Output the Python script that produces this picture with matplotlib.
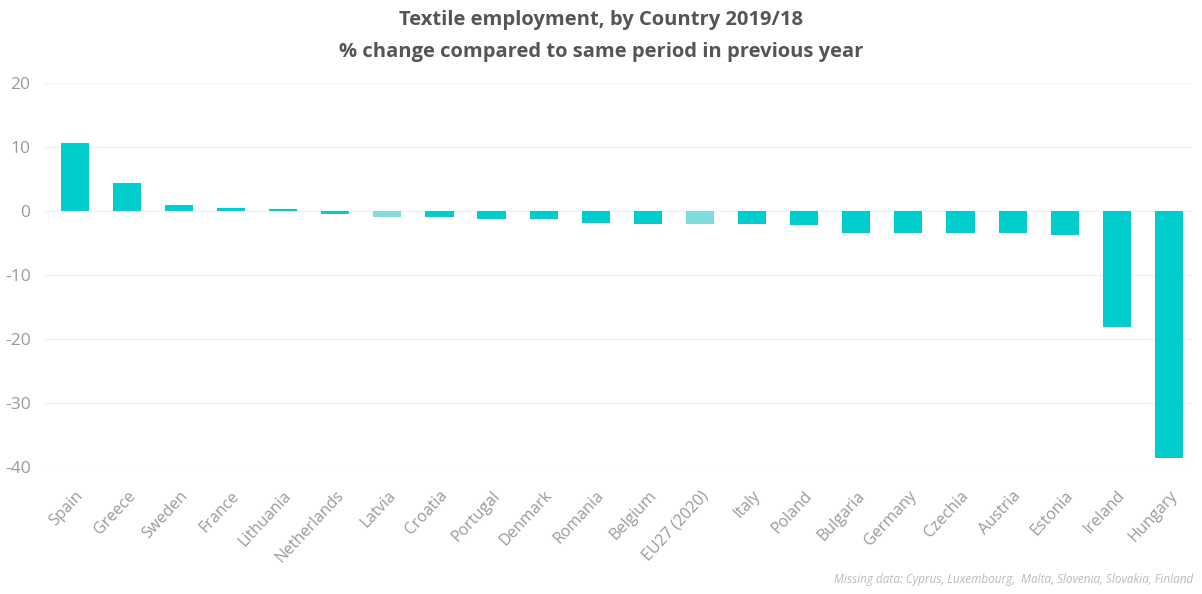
import matplotlib.pyplot as plt
import numpy as np

# Datos
countries = ["Spain", "Greece", "Sweden", "France", "Lithuania", "Netherlands",
             "Latvia", "Croatia", "Portugal", "Denmark", "Romania", "Belgium",
             "EU27 (2020)", "Italy", "Poland", "Bulgaria", "Germany", "Czechia",
             "Austria", "Estonia", "Ireland", "Hungary"]
change = [10.6, 4.4, 0.9, 0.5, 0.4, -0.5, -0.9, -0.9, -1.3, -1.3, -1.9, -2.0,
          -2.0, -2.0, -2.2, -3.4, -3.4, -3.5, -3.5, -3.8, -18.1, -38.6]
light = ["Latvia", "EU27 (2020)"]
yticks = [20, 10, 0, -10, -20, -30, -40]

plt.rcParams['font.family'] = ['Open Sans', 'DejaVu Sans']
plt.rcParams['axes.unicode_minus'] = False

fig = plt.figure(figsize=(12.02, 5.94), dpi=100)
ax = fig.add_axes([0.037, 0.214, 0.955, 0.646])

colors = ['#7fdcdc' if c in light else '#00cccc' for c in countries]
x = np.arange(len(countries))
ax.bar(x, change, width=0.54, color=colors, zorder=2)

ax.set_xlim(-0.58, len(countries) - 0.55)
ax.set_ylim(-40, 20)
ax.set_yticks(yticks)
ax.grid(axis='y', color='#f2f2f2', linewidth=1, zorder=0)
ax.set_xticks(x)
ax.set_xticklabels(countries, rotation=47, ha='right', rotation_mode='anchor',
                   fontsize=11.5, color='#9a9a9a')
ax.tick_params(axis='y', labelsize=12.5, colors='#9a9a9a', length=0, pad=10)
ax.tick_params(axis='x', length=0, pad=15)
for s in ax.spines.values():
    s.set_visible(False)

fig.text(0.5, 0.967, "Textile employment, by Country 2019/18", ha='center', va='center',
         fontsize=14.5, fontweight='bold', color='#555555')
fig.text(0.5, 0.913, "% change compared to same period in previous year", ha='center',
         va='center', fontsize=14.5, fontweight='bold', color='#555555')
fig.text(0.993, 0.025, "Missing data: Cyprus, Luxembourg,  Malta, Slovenia, Slovakia, Finland",
         ha='right', va='center', fontsize=8.5, style='italic', color='#bbbbbb')

fig.savefig("out.png", dpi=100)
